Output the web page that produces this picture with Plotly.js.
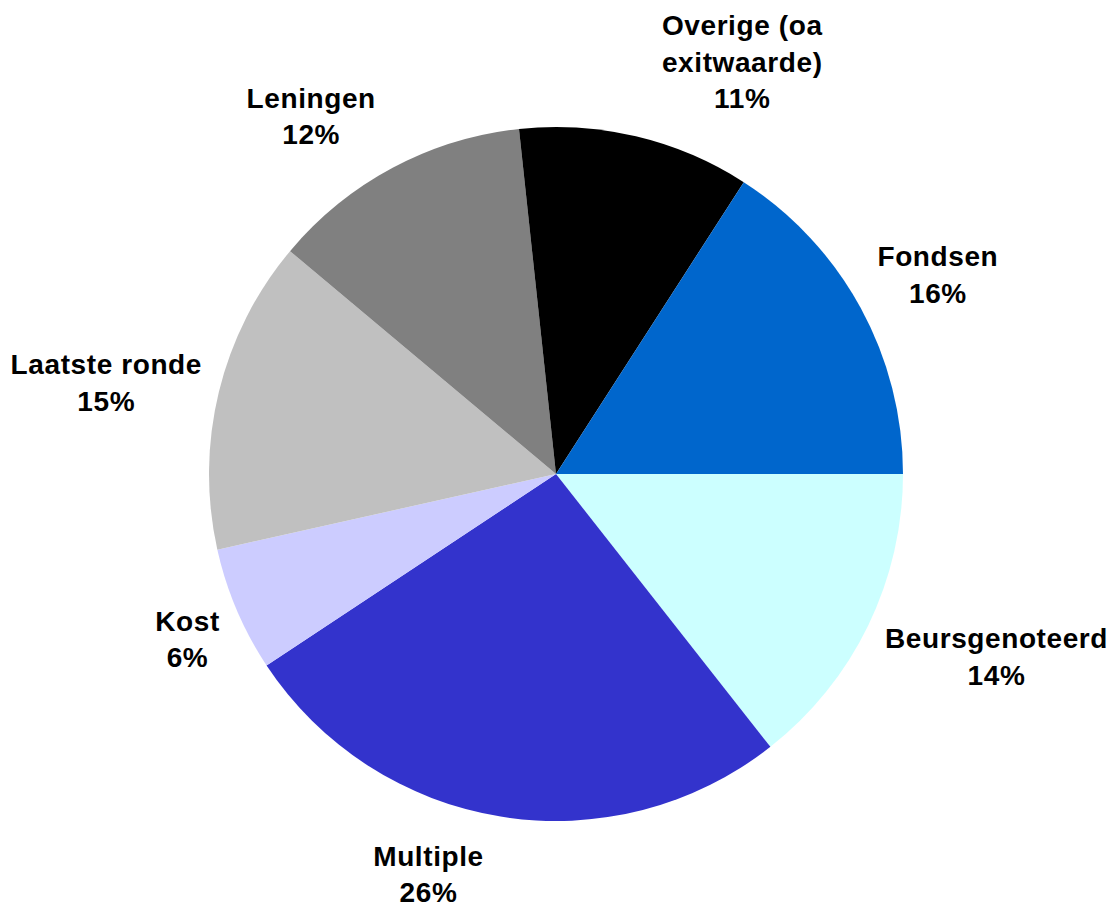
<!DOCTYPE html>
<html>
<head>
<meta charset="utf-8">
<script src="https://cdn.plot.ly/plotly-3.0.1.min.js"></script>
<style>html,body{margin:0;padding:0;background:#fff;}#chart{width:1112px;height:907px;}
.slicetext, .slicetext text{letter-spacing:0.6px;}</style>
</head>
<body>
<div id="chart"></div>
<script>
const labels = ["Beursgenoteerd", "Multiple", "Kost", "Laatste ronde", "Leningen", "Overige (oa<br>exitwaarde)", "Fondsen"];
const values = [14.4, 26.3, 5.8, 14.6, 12.2, 10.8, 15.9];
const colors = ["#CCFFFF", "#3333CC", "#CCCCFF", "#C0C0C0", "#808080", "#000000", "#0066CC"];

const W = 1112, H = 907;
const cx = 556, cy = 474, R = 347;
// outside labels are nudged vertically away from the centre (like Excel's best-fit labels)
const nudgeMax = 25, nudgeStart = 60, nudgeRate = 0.3;

const trace = {
  type: "pie",
  labels: labels,
  values: values,
  sort: false,
  direction: "clockwise",
  rotation: 90,
  marker: {colors: colors, line: {width: 0}},
  textposition: "outside",
  texttemplate: "%{label}<br>%{percent:.0%}",
  textfont: {family: "Liberation Sans, Arial, sans-serif", size: 28, color: "#000", weight: "bold"},
  hoverinfo: "none",
  domain: {x: [(cx - R) / W, (cx + R) / W], y: [(H - cy - R) / H, (H - cy + R) / H]}
};

Plotly.newPlot("chart", [trace], {
  width: W, height: H,
  margin: {l: 0, r: 0, t: 0, b: 0},
  showlegend: false,
  paper_bgcolor: "#fff"
}, {displayModeBar: false, staticPlot: true}).then(gd => {
  const root = gd.getBoundingClientRect();
  const els = Array.from(gd.querySelectorAll(".slicetext"))
    .filter(t => !(t.parentNode && t.parentNode.closest && t.parentNode.closest(".slicetext")));
  els.forEach(t => {
    const b = t.getBoundingClientRect();
    const d = b.top + b.height / 2 - root.top - cy;
    const mag = Math.max(0, Math.min(nudgeMax, (Math.abs(d) - nudgeStart) * nudgeRate));
    const dy = Math.sign(d) * mag;
    const tr = t.getAttribute("transform") || "";
    t.setAttribute("transform", "translate(0," + dy.toFixed(2) + ") " + tr);
  });
});
</script>
</body>
</html>
